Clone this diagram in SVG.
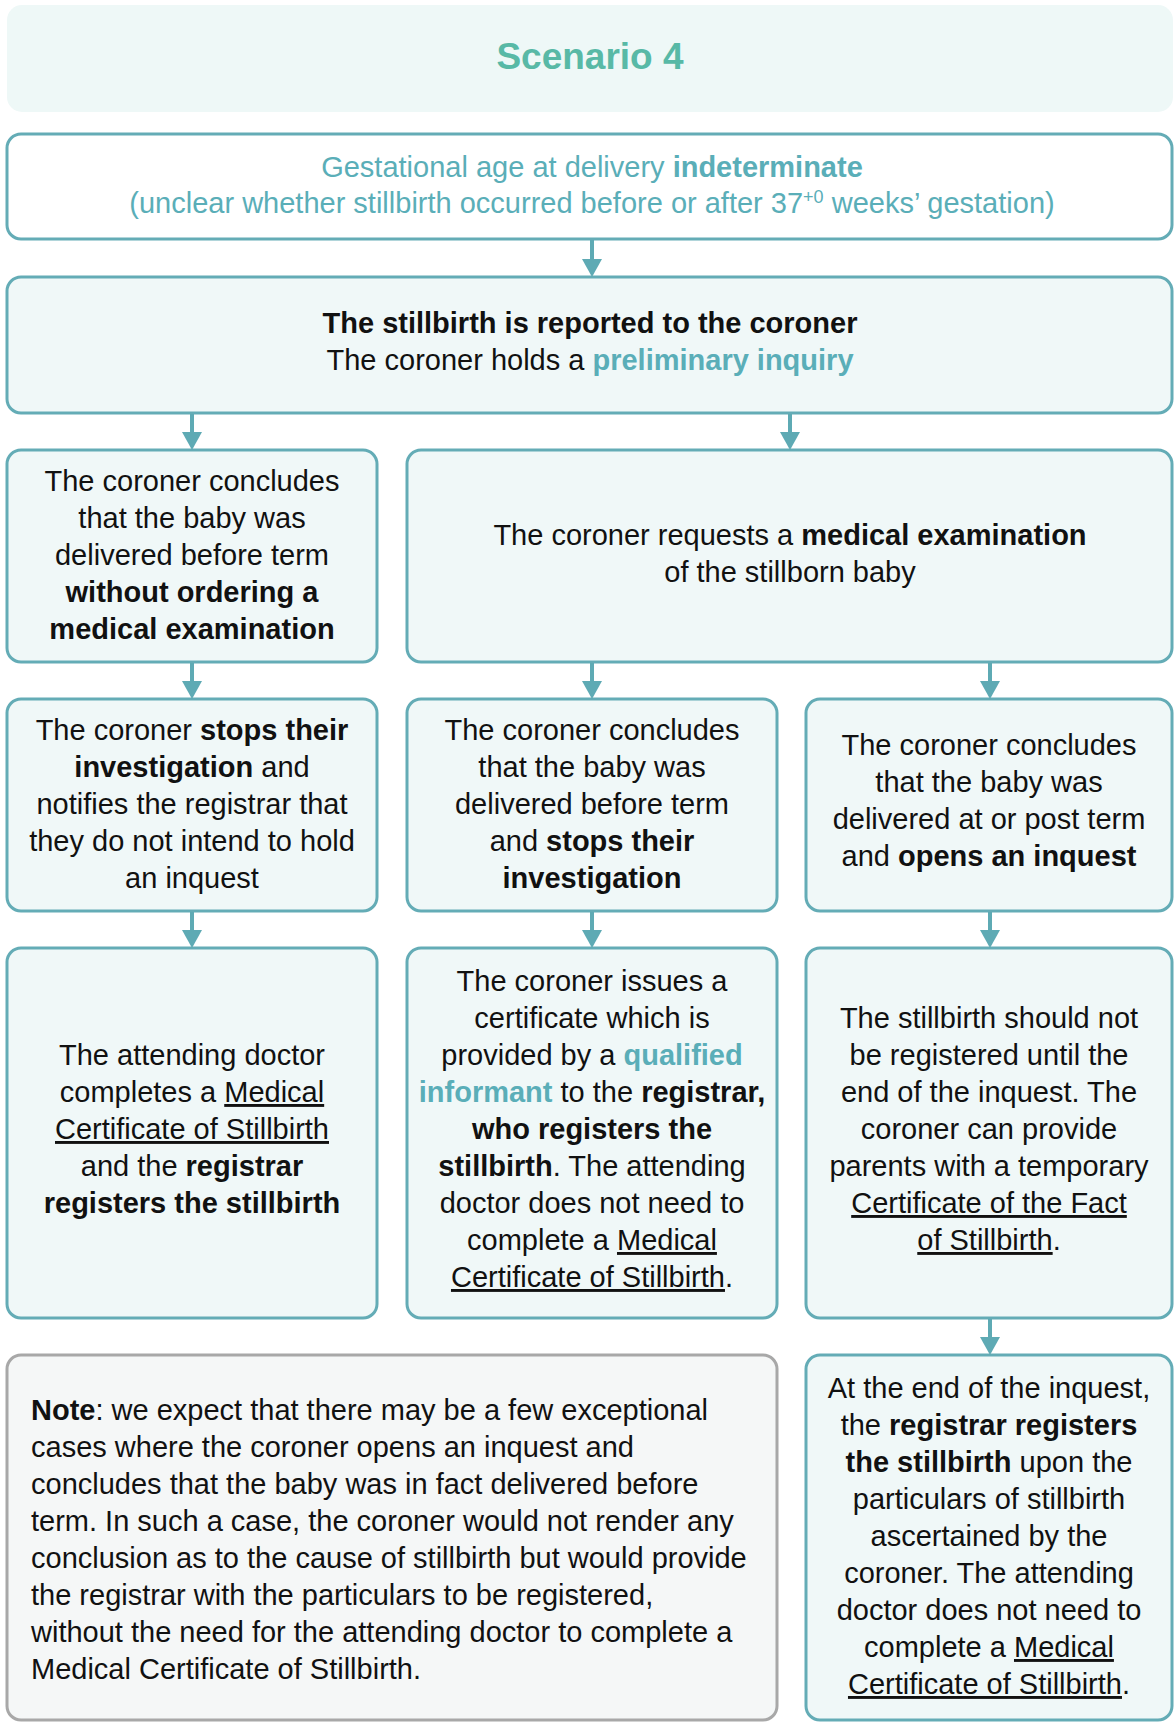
<svg xmlns="http://www.w3.org/2000/svg" xmlns:xlink="http://www.w3.org/1999/xlink" width="1174" height="1722" viewBox="0 0 1174 1722">
<defs>
<style>
text{font-family:"Liberation Sans",Arial,sans-serif;font-size:29px;fill:#111;}
.c{text-anchor:middle;}
.b{font-weight:bold;}
.t{fill:#5aaeb8;}
.u{text-decoration:underline;}
.box{fill:#f0f8f8;stroke:#64acb6;stroke-width:3;}
.wbox{fill:#ffffff;stroke:#64acb6;stroke-width:3;}
.note{fill:#f5f7f7;stroke:#a8a8a8;stroke-width:3;}
.conn{stroke:#5eaab4;stroke-width:4;fill:none;}
.head{fill:#5eaab4;}
.title{font-size:37px;font-weight:bold;fill:#58b9a6;}
</style>
<path id="ah" class="head" d="M-10,-18 L10,-18 L0,0 Z"/>
</defs>

<g id="header">
<rect x="7" y="5" width="1166" height="107" rx="15" fill="#eef8f7"/>
<text class="c title" x="590" y="69">Scenario 4</text>
</g>

<g id="gestational">
<rect class="wbox" x="7" y="134" width="1165" height="105" rx="14"/>
<text class="c t" x="592" y="177">Gestational age at delivery <tspan class="b">indeterminate</tspan></text>
<text class="c t" x="592" y="213">(unclear whether stillbirth occurred before or after 37<tspan dy="-10" font-size="18">+0</tspan><tspan dy="10"> weeks’ gestation)</tspan></text>
</g>

<g id="reported">
<rect class="box" x="7" y="277" width="1165" height="136" rx="14"/>
<text class="c b" x="590" y="333">The stillbirth is reported to the coroner</text>
<text class="c" x="590" y="370">The coroner holds a <tspan class="b t">preliminary inquiry</tspan></text>
</g>

<g id="concludes-without">
<rect class="box" x="7" y="450" width="370" height="212" rx="14"/>
<text class="c" x="192" y="491">The coroner concludes</text>
<text class="c" x="192" y="528">that the baby was</text>
<text class="c" x="192" y="565">delivered before term</text>
<text class="c b" x="192" y="602">without ordering a</text>
<text class="c b" x="192" y="639">medical examination</text>
</g>

<g id="requests-exam">
<rect class="box" x="407" y="450" width="765" height="212" rx="14"/>
<text class="c" x="790" y="545">The coroner requests a <tspan class="b">medical examination</tspan></text>
<text class="c" x="790" y="582">of the stillborn baby</text>
</g>

<g id="stops-notifies">
<rect class="box" x="7" y="699" width="370" height="212" rx="14"/>
<text class="c" x="192" y="740">The coroner <tspan class="b">stops their</tspan></text>
<text class="c" x="192" y="777"><tspan class="b">investigation</tspan> and</text>
<text class="c" x="192" y="814">notifies the registrar that</text>
<text class="c" x="192" y="851">they do not intend to hold</text>
<text class="c" x="192" y="888">an inquest</text>
</g>

<g id="before-term-stops">
<rect class="box" x="407" y="699" width="370" height="212" rx="14"/>
<text class="c" x="592" y="740">The coroner concludes</text>
<text class="c" x="592" y="777">that the baby was</text>
<text class="c" x="592" y="814">delivered before term</text>
<text class="c" x="592" y="851">and <tspan class="b">stops their</tspan></text>
<text class="c b" x="592" y="888">investigation</text>
</g>

<g id="post-term-inquest">
<rect class="box" x="806" y="699" width="366" height="212" rx="14"/>
<text class="c" x="989" y="755">The coroner concludes</text>
<text class="c" x="989" y="792">that the baby was</text>
<text class="c" x="989" y="829">delivered at or post term</text>
<text class="c" x="989" y="866">and <tspan class="b">opens an inquest</tspan></text>
</g>

<g id="doctor-completes">
<rect class="box" x="7" y="948" width="370" height="370" rx="14"/>
<text class="c" x="192" y="1065">The attending doctor</text>
<text class="c" x="192" y="1102">completes a <tspan class="u">Medical</tspan></text>
<text class="c u" x="192" y="1139">Certificate of Stillbirth</text>
<text class="c" x="192" y="1176">and the <tspan class="b">registrar</tspan></text>
<text class="c b" x="192" y="1213">registers the stillbirth</text>
</g>

<g id="coroner-certificate">
<rect class="box" x="407" y="948" width="370" height="370" rx="14"/>
<text class="c" x="592" y="991">The coroner issues a</text>
<text class="c" x="592" y="1028">certificate which is</text>
<text class="c" x="592" y="1065">provided by a <tspan class="b t">qualified</tspan></text>
<text class="c" x="592" y="1102"><tspan class="b t">informant</tspan> to the <tspan class="b">registrar,</tspan></text>
<text class="c b" x="592" y="1139">who registers the</text>
<text class="c" x="592" y="1176"><tspan class="b">stillbirth</tspan>. The attending</text>
<text class="c" x="592" y="1213">doctor does not need to</text>
<text class="c" x="592" y="1250">complete a <tspan class="u">Medical</tspan></text>
<text class="c" x="592" y="1287"><tspan class="u">Certificate of Stillbirth</tspan>.</text>
</g>

<g id="not-registered-until">
<rect class="box" x="806" y="948" width="366" height="370" rx="14"/>
<text class="c" x="989" y="1028">The stillbirth should not</text>
<text class="c" x="989" y="1065">be registered until the</text>
<text class="c" x="989" y="1102">end of the inquest. The</text>
<text class="c" x="989" y="1139">coroner can provide</text>
<text class="c" x="989" y="1176">parents with a temporary</text>
<text class="c u" x="989" y="1213">Certificate of the Fact</text>
<text class="c" x="989" y="1250"><tspan class="u">of Stillbirth</tspan>.</text>
</g>

<g id="note">
<rect class="note" x="7" y="1355" width="770" height="365" rx="14"/>
<text x="31" y="1420"><tspan class="b">Note</tspan>: we expect that there may be a few exceptional</text>
<text x="31" y="1457">cases where the coroner opens an inquest and</text>
<text x="31" y="1494">concludes that the baby was in fact delivered before</text>
<text x="31" y="1531">term. In such a case, the coroner would not render any</text>
<text x="31" y="1568">conclusion as to the cause of stillbirth but would provide</text>
<text x="31" y="1605">the registrar with the particulars to be registered,</text>
<text x="31" y="1642">without the need for the attending doctor to complete a</text>
<text x="31" y="1679">Medical Certificate of Stillbirth.</text>
</g>

<g id="end-of-inquest">
<rect class="box" x="806" y="1355" width="366" height="365" rx="14"/>
<text class="c" x="989" y="1398">At the end of the inquest,</text>
<text class="c" x="989" y="1435">the <tspan class="b">registrar registers</tspan></text>
<text class="c" x="989" y="1472"><tspan class="b">the stillbirth</tspan> upon the</text>
<text class="c" x="989" y="1509">particulars of stillbirth</text>
<text class="c" x="989" y="1546">ascertained by the</text>
<text class="c" x="989" y="1583">coroner. The attending</text>
<text class="c" x="989" y="1620">doctor does not need to</text>
<text class="c" x="989" y="1657">complete a <tspan class="u">Medical</tspan></text>
<text class="c" x="989" y="1694"><tspan class="u">Certificate of Stillbirth</tspan>.</text>
</g>

<g id="connectors">
<line class="conn" x1="592" y1="240" x2="592" y2="262"/><use xlink:href="#ah" href="#ah" x="592" y="277"/>
<line class="conn" x1="192" y1="414" x2="192" y2="435"/><use xlink:href="#ah" href="#ah" x="192" y="450"/>
<line class="conn" x1="790" y1="414" x2="790" y2="435"/><use xlink:href="#ah" href="#ah" x="790" y="450"/>
<line class="conn" x1="192" y1="663" x2="192" y2="684"/><use xlink:href="#ah" href="#ah" x="192" y="699"/>
<line class="conn" x1="592" y1="663" x2="592" y2="684"/><use xlink:href="#ah" href="#ah" x="592" y="699"/>
<line class="conn" x1="990" y1="663" x2="990" y2="684"/><use xlink:href="#ah" href="#ah" x="990" y="699"/>
<line class="conn" x1="192" y1="912" x2="192" y2="933"/><use xlink:href="#ah" href="#ah" x="192" y="948"/>
<line class="conn" x1="592" y1="912" x2="592" y2="933"/><use xlink:href="#ah" href="#ah" x="592" y="948"/>
<line class="conn" x1="990" y1="912" x2="990" y2="933"/><use xlink:href="#ah" href="#ah" x="990" y="948"/>
<line class="conn" x1="990" y1="1319" x2="990" y2="1340"/><use xlink:href="#ah" href="#ah" x="990" y="1355"/>
</g>
</svg>
